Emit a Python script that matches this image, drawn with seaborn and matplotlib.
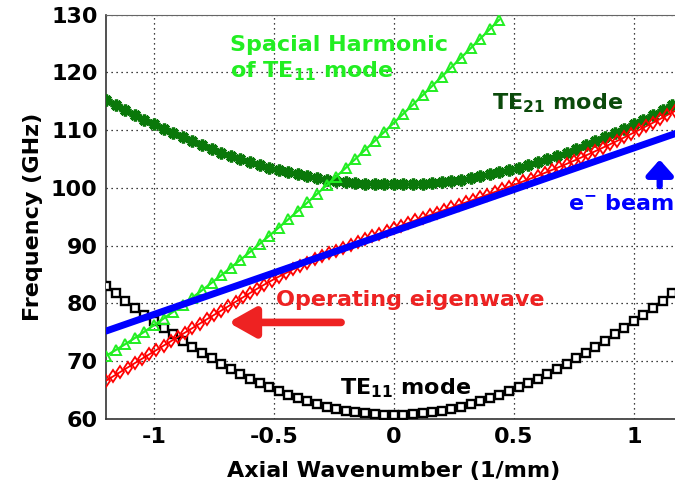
import numpy as np
import pandas as pd
import matplotlib
matplotlib.use("Agg")
import matplotlib.pyplot as plt
import seaborn as sns

# axial wavenumber grids (1/mm)
k_coarse = [-1.20, -1.16, -1.12, -1.08, -1.04, -1.00, -0.96, -0.92, -0.88, -0.84,
            -0.80, -0.76, -0.72, -0.68, -0.64, -0.60, -0.56, -0.52, -0.48, -0.44,
            -0.40, -0.36, -0.32, -0.28, -0.24, -0.20, -0.16, -0.12, -0.08, -0.04,
            0.00, 0.04, 0.08, 0.12, 0.16, 0.20, 0.24, 0.28, 0.32, 0.36,
            0.40, 0.44, 0.48, 0.52, 0.56, 0.60, 0.64, 0.68, 0.72, 0.76,
            0.80, 0.84, 0.88, 0.92, 0.96, 1.00, 1.04, 1.08, 1.12, 1.16, 1.20]

k_fine = [-1.20, -1.17, -1.14, -1.11, -1.08, -1.05, -1.02, -0.99, -0.96, -0.93,
          -0.90, -0.87, -0.84, -0.81, -0.78, -0.75, -0.72, -0.69, -0.66, -0.63,
          -0.60, -0.57, -0.54, -0.51, -0.48, -0.45, -0.42, -0.39, -0.36, -0.33,
          -0.30, -0.27, -0.24, -0.21, -0.18, -0.15, -0.12, -0.09, -0.06, -0.03,
          0.00, 0.03, 0.06, 0.09, 0.12, 0.15, 0.18, 0.21, 0.24, 0.27,
          0.30, 0.33, 0.36, 0.39, 0.42, 0.45, 0.48, 0.51, 0.54, 0.57,
          0.60, 0.63, 0.66, 0.69, 0.72, 0.75, 0.78, 0.81, 0.84, 0.87,
          0.90, 0.93, 0.96, 0.99, 1.02, 1.05, 1.08, 1.11, 1.14, 1.17, 1.20]

# TE11 mode (GHz), on k_coarse
te11 = [83.00, 81.72, 80.47, 79.25, 78.05, 76.87, 75.73, 74.62, 73.54, 72.49,
        71.47, 70.50, 69.56, 68.65, 67.79, 66.97, 66.20, 65.47, 64.79, 64.15,
        63.57, 63.03, 62.55, 62.12, 61.75, 61.43, 61.17, 60.96, 60.82, 60.73,
        60.70, 60.73, 60.82, 60.96, 61.17, 61.43, 61.75, 62.12, 62.55, 63.03,
        63.57, 64.15, 64.79, 65.47, 66.20, 66.97, 67.79, 68.65, 69.56, 70.50,
        71.47, 72.49, 73.54, 74.62, 75.73, 76.87, 78.05, 79.25, 80.47, 81.72, 83.00]

# TE21 mode (GHz), on k_coarse
te21 = [115.27, 114.37, 113.49, 112.63, 111.80, 111.00, 110.22, 109.46, 108.74, 108.04,
        107.37, 106.73, 106.12, 105.53, 104.98, 104.46, 103.97, 103.51, 103.09, 102.70,
        102.33, 102.01, 101.71, 101.45, 101.23, 101.04, 100.88, 100.76, 100.67, 100.62,
        100.60, 100.62, 100.67, 100.76, 100.88, 101.04, 101.23, 101.45, 101.71, 102.01,
        102.33, 102.70, 103.09, 103.51, 103.97, 104.46, 104.98, 105.53, 106.12, 106.73,
        107.37, 108.04, 108.74, 109.46, 110.22, 111.00, 111.80, 112.63, 113.49, 114.37, 115.27]

# spatial harmonic of TE11 (GHz), first 42 points of k_coarse
k_harm = k_coarse[:42]
harmonic = [70.91, 71.90, 72.93, 73.99, 75.09, 76.21, 77.37, 78.55, 79.76, 81.00,
            82.26, 83.55, 84.85, 86.18, 87.53, 88.90, 90.29, 91.69, 93.12, 94.56,
            96.01, 97.48, 98.96, 100.46, 101.97, 103.49, 105.03, 106.57, 108.13, 109.69,
            111.27, 112.86, 114.45, 116.05, 117.67, 119.29, 120.92, 122.55, 124.19, 125.84,
            127.50, 129.16]

# operating eigenwave (GHz), on k_fine
eigenwave = [66.60, 67.36, 68.12, 68.88, 69.64, 70.40, 71.16, 71.91, 72.67, 73.43,
             74.19, 74.95, 75.71, 76.47, 77.23, 77.99, 78.74, 79.50, 80.26, 81.02,
             81.78, 82.53, 83.25, 83.95, 84.62, 85.26, 85.89, 86.48, 87.06, 87.60,
             88.13, 88.64, 89.14, 89.64, 90.13, 90.62, 91.11, 91.59, 92.07, 92.54,
             93.01, 93.47, 93.93, 94.39, 94.84, 95.29, 95.74, 96.18, 96.61, 97.05,
             97.49, 97.93, 98.38, 98.83, 99.28, 99.74, 100.20, 100.67, 101.14, 101.62,
             102.11, 102.61, 103.12, 103.64, 104.16, 104.70, 105.25, 105.80, 106.37, 106.95,
             107.54, 108.13, 108.74, 109.37, 110.00, 110.64, 111.29, 111.95, 112.62, 113.29,
             113.98]

# electron beam line
k_beam = [-1.2, 1.2]
beam = [75.2, 109.8]

sns.set_style("white")
plt.rcParams["font.family"] = ["DejaVu Sans"]
plt.rcParams["font.weight"] = "bold"
plt.rcParams["mathtext.fontset"] = "dejavusans"
plt.rcParams["mathtext.default"] = "bf"
plt.rcParams["text.color"] = "black"
plt.rcParams["axes.labelcolor"] = "black"
plt.rcParams["xtick.color"] = "black"
plt.rcParams["ytick.color"] = "black"

fig = plt.figure(figsize=(6.75, 4.91), dpi=100)
ax = fig.add_axes([0.157, 0.147, 0.853, 0.823])

bright = "#22ee22"
dark = "#0a780a"

sns.lineplot(x=k_coarse, y=te11, ax=ax, color="black", lw=1.6, marker="s",
             markersize=5.5, markerfacecolor="white", markeredgecolor="black",
             markeredgewidth=1.7, zorder=3)
sns.lineplot(x=k_coarse, y=te21, ax=ax, color=dark, lw=2.2, marker=(8, 2, 0),
             markersize=8.5, markeredgecolor=dark, markeredgewidth=2.4, zorder=3)
sns.lineplot(x=k_harm, y=harmonic, ax=ax, color=bright, lw=1.6, marker="^",
             markersize=7.5, markerfacecolor="none", markeredgecolor=bright,
             markeredgewidth=1.4, zorder=3)
sns.lineplot(x=k_fine, y=eigenwave, ax=ax, color="red", lw=1.3, marker="d",
             markersize=6, markerfacecolor="none", markeredgecolor="red",
             markeredgewidth=1.3, zorder=4)
sns.lineplot(x=k_beam, y=beam, ax=ax, color="blue", lw=5, zorder=5)

ax.set_xlim(-1.2, 1.2)
ax.set_ylim(60, 130)
ax.set_xticks([-1, -0.5, 0, 0.5, 1])
ax.set_xticklabels(["-1", "-0.5", "0", "0.5", "1"])
ax.set_yticks(range(60, 131, 10))
ax.tick_params(direction="in", length=4, width=1, labelsize=16, pad=6,
               top=False, right=False, labelcolor="black")
for lab in ax.get_xticklabels() + ax.get_yticklabels():
    lab.set_fontweight("bold")
ax.grid(True, color="black", linestyle=(0, (1, 3)), linewidth=0.9)
ax.set_axisbelow(True)
for s in ["left", "bottom"]:
    ax.spines[s].set_color("#333333")
    ax.spines[s].set_linewidth(1.2)
ax.spines["top"].set_color("#666666")
ax.spines["right"].set_visible(False)

ax.set_xlabel("Axial Wavenumber (1/mm)", fontsize=16, fontweight="bold", labelpad=10)
ax.set_ylabel("Frequency (GHz)", fontsize=16, fontweight="bold", labelpad=6)

ax.text(-0.683, 124.7, "Spacial Harmonic", color=bright, fontsize=16,
        fontweight="bold", va="center", ha="left")
ax.text(-0.683, 120.3, r"of TE$_{11}$ mode", color=bright, fontsize=16,
        fontweight="bold", va="center", ha="left")
ax.text(0.41, 114.7, r"TE$_{21}$ mode", color="#0b4a0b", fontsize=16,
        fontweight="bold", va="center", ha="left")
ax.text(0.725, 97.2, r"e$^{-}$ beam", color="blue", fontsize=16,
        fontweight="bold", va="center", ha="left")
ax.text(-0.49, 80.6, "Operating eigenwave", color="#ee2222", fontsize=16,
        fontweight="bold", va="center", ha="left")
ax.text(-0.225, 65.3, r"TE$_{11}$ mode", color="black", fontsize=16,
        fontweight="bold", va="center", ha="left")

ax.annotate("", xy=(-0.69, 76.7), xytext=(-0.22, 76.7),
            arrowprops=dict(arrowstyle="-|>,head_length=0.8,head_width=0.45",
                            color="#ee2222", lw=5.5, mutation_scale=20,
                            shrinkA=0, shrinkB=0))
ax.annotate("", xy=(1.108, 104.9), xytext=(1.108, 100.3),
            arrowprops=dict(arrowstyle="-|>,head_length=0.45,head_width=0.4",
                            color="blue", lw=4.5, mutation_scale=20,
                            shrinkA=0, shrinkB=0))

fig.savefig("out.png", dpi=100)
